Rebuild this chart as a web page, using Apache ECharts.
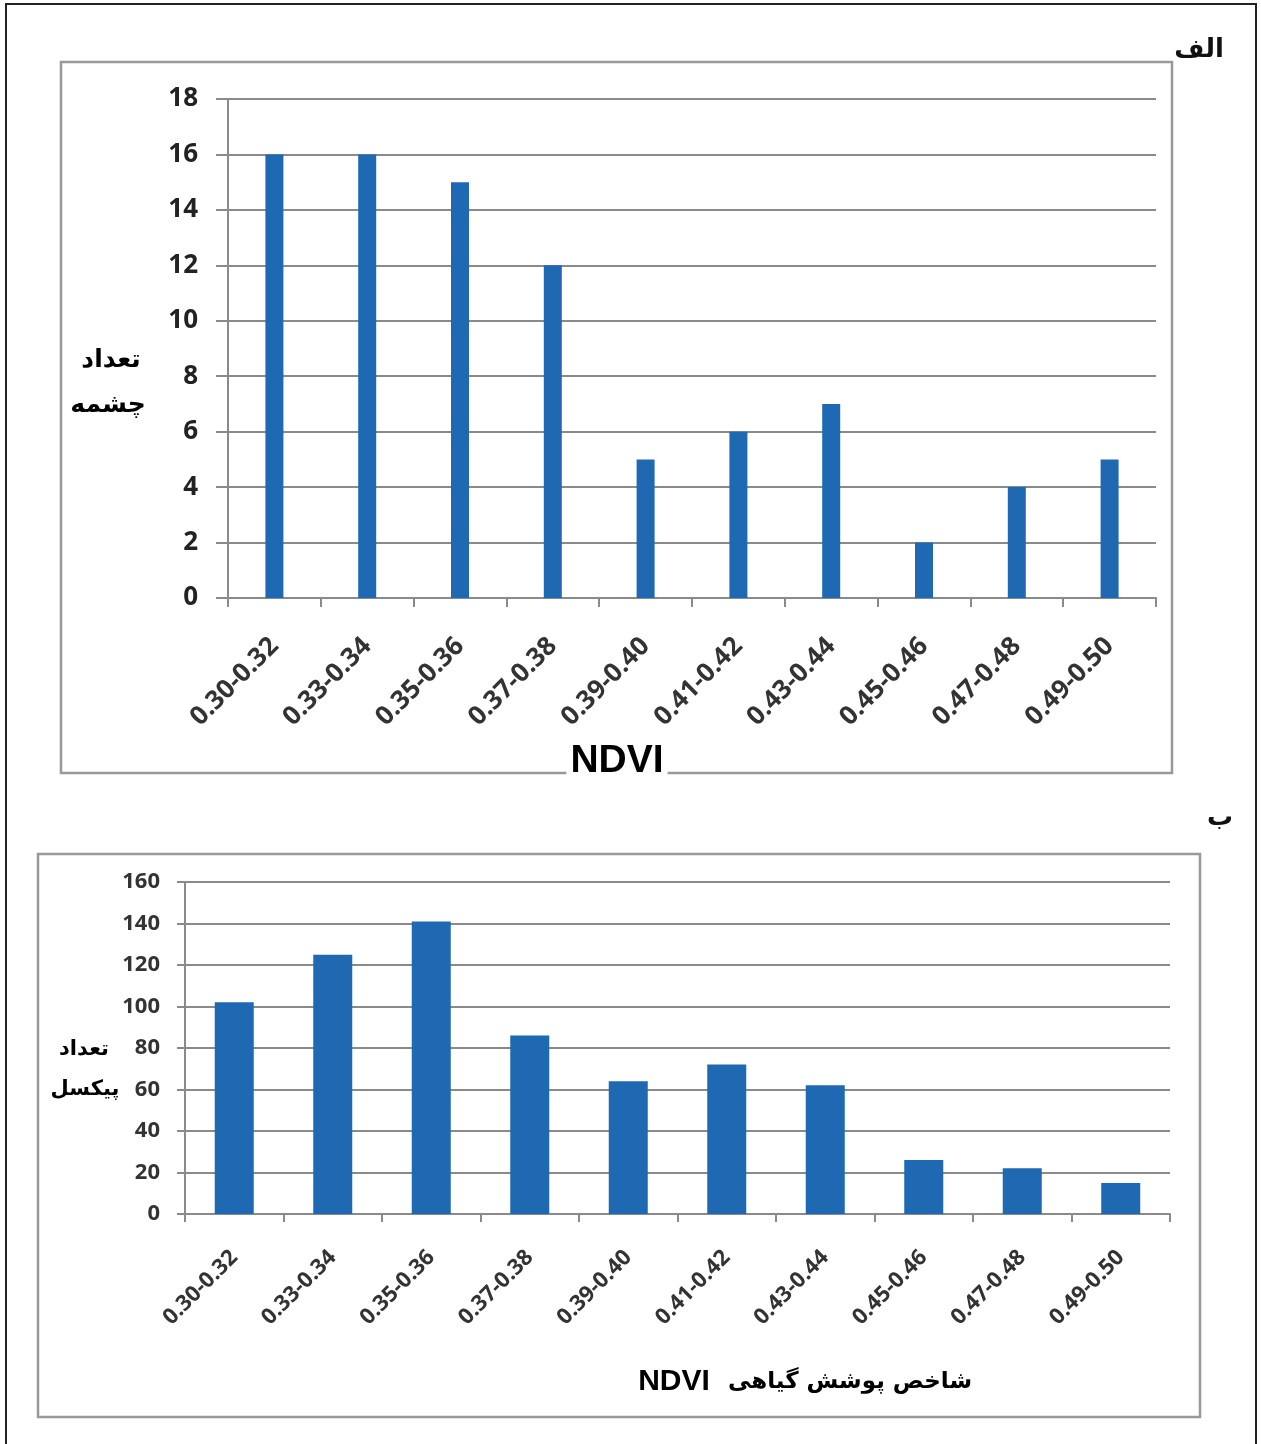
<!DOCTYPE html>
<html><head><meta charset="utf-8">
<script src="https://cdn.jsdelivr.net/npm/echarts@6/dist/echarts.min.js"></script>
<style>html,body{margin:0;padding:0;background:#fff}#c{width:1261px;height:1444px}</style>
</head><body><div id="c"></div>
<script>
// ---- data ----
const categories = ['0.30-0.32','0.33-0.34','0.35-0.36','0.37-0.38','0.39-0.40','0.41-0.42','0.43-0.44','0.45-0.46','0.47-0.48','0.49-0.50'];
const springCounts = [16,16,15,12,5,6,7,2,4,5];       // الف: تعداد چشمه
const pixelCounts = [102,125,141,86,64,72,62,26,22,15]; // ب: تعداد پیکسل
const topYMin = 0, topYMax = 18, topYStep = 2;
const botYMin = 0, botYMax = 160, botYStep = 20;

// ---- styling ----
const gridGrey = '#8a8a8a';
const barBlue = '#1f69b3';
const latin = "'Open Sans', 'DejaVu Sans', sans-serif";
const arabic = "'DejaVu Sans', sans-serif";
const arial = "'Liberation Sans', 'DejaVu Sans', sans-serif";

const chart = echarts.init(document.getElementById('c'), null, {renderer:'canvas'});

function xAxisCfg(gi, fs, margin, tickLen){
  return {
    type:'category', gridIndex:gi, data:categories,
    axisLine:{show:true, lineStyle:{color:gridGrey, width:2}},
    axisTick:{show:true, length:tickLen, lineStyle:{color:gridGrey, width:2}},
    axisLabel:{interval:0, rotate:45, margin:margin, fontSize:fs, fontWeight:'bold', fontFamily:latin, color:'#333'}
  };
}
function yAxisCfg(gi, min, max, step, fs, margin, tickLen, color){
  return {
    type:'value', gridIndex:gi, min:min, max:max, interval:step,
    axisLine:{show:true, lineStyle:{color:gridGrey, width:2}},
    axisTick:{show:true, length:tickLen, lineStyle:{color:gridGrey, width:2}},
    splitLine:{show:true, lineStyle:{color:gridGrey, width:2}},
    axisLabel:{margin:margin, fontSize:fs, fontWeight:'bold', fontFamily:latin, color:color}
  };
}

const option = {
  animation:false,
  backgroundColor:'#fff',
  grid:[
    {left:228, right:105, top:99, height:499},
    {left:185, right:91, top:882, height:332}
  ],
  xAxis:[ xAxisCfg(0, 26, 44, 9), xAxisCfg(1, 22, 40, 8) ],
  yAxis:[
    yAxisCfg(0, topYMin, topYMax, topYStep, 26, 30, 12, '#222'),
    yAxisCfg(1, botYMin, botYMax, botYStep, 22, 25, 8, '#333')
  ],
  series:[
    {type:'bar', xAxisIndex:0, yAxisIndex:0, data:springCounts, barWidth:18, itemStyle:{color:barBlue}},
    {type:'bar', xAxisIndex:1, yAxisIndex:1, data:pixelCounts, barWidth:39, itemStyle:{color:barBlue}}
  ],
  graphic:[
    {type:'polyline', z:1, shape:{points:[[1256,1444],[1256,4],[6,4],[6,1444]]}, style:{stroke:'#222', lineWidth:2, fill:null}},
    {type:'rect', z:1, shape:{x:61, y:62, width:1111, height:711}, style:{stroke:'#999', lineWidth:2.5, fill:null}},
    {type:'rect', z:1, shape:{x:38, y:854, width:1162, height:563}, style:{stroke:'#999', lineWidth:2.5, fill:null}},
    {type:'text', z:10, x:1199, y:50, style:{text:'الف', font:"bold 26px "+arabic, fill:'#111', align:'center', verticalAlign:'middle'}},
    {type:'text', z:10, x:1220, y:818, style:{text:'ب', font:"bold 26px "+arabic, fill:'#111', align:'center', verticalAlign:'middle'}},
    {type:'text', z:10, x:111, y:360, style:{text:'تعداد', font:"bold 25px "+arabic, fill:'#000', align:'center', verticalAlign:'middle'}},
    {type:'text', z:10, x:108, y:405, style:{text:'چشمه', font:"bold 25px "+arabic, fill:'#000', align:'center', verticalAlign:'middle'}},
    {type:'text', z:10, x:617, y:761, style:{text:'NDVI', font:"bold 39px "+arial, fill:'#000', align:'center', verticalAlign:'middle', backgroundColor:'#fff', padding:[0,4]}},
    {type:'text', z:10, x:84, y:1050, style:{text:'تعداد', font:"bold 21px "+arabic, fill:'#000', align:'center', verticalAlign:'middle'}},
    {type:'text', z:10, x:85, y:1090, style:{text:'پیکسل', font:"bold 21px "+arabic, fill:'#000', align:'center', verticalAlign:'middle'}},
    {type:'text', z:10, x:674, y:1382, style:{text:'NDVI', font:"bold 30px "+arial, fill:'#000', align:'center', verticalAlign:'middle'}},
    {type:'text', z:10, x:850, y:1382, style:{text:'شاخص پوشش گیاهی', font:"bold 23px "+arabic, fill:'#000', align:'center', verticalAlign:'middle'}}
  ]
};
chart.setOption(option);
</script>
</body></html>
